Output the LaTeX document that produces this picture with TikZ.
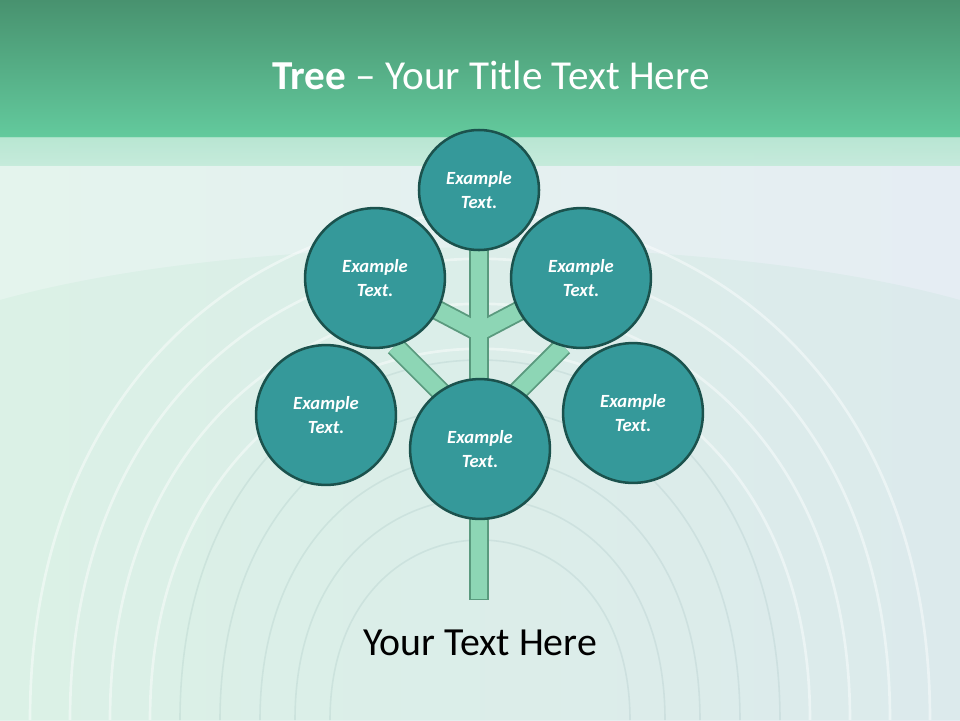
\documentclass[tikz,border=0pt]{standalone}
\usepackage{fontspec}
\setmainfont{Carlito}
\usepackage{xcolor}
\usetikzlibrary{calc}
\definecolor{bandtop}{HTML}{48926F}
\definecolor{bandbot}{HTML}{63CA9D}
\definecolor{leaffill}{HTML}{35999A}
\definecolor{leafedge}{HTML}{1B524D}
\definecolor{stemfill}{HTML}{8DD6B5}
\definecolor{stemedge}{HTML}{5A9A7E}
\definecolor{bgleft}{HTML}{E4F4ED}
\definecolor{bgright}{HTML}{E5EDF3}
\tikzset{
	leaf/.style={
			circle, draw=leafedge, fill=leaffill, line width=1.9pt,
			minimum size=#1, inner sep=0pt, align=center, text=white,
			font=\fontsize{14}{17.5}\selectfont\bfseries\itshape
		},
	stemedge/.style={draw=stemedge, line width=0.54cm},
	stemfill/.style={draw=stemfill, line width=0.44cm}
}

\begin{document}
\begin{tikzpicture}[x=0.026458cm, y=-0.026458cm]
            % Background of the slide
            \useasboundingbox (0,0) rectangle (960,720);
            \shade[left color=bgleft, right color=bgright] (0,0) rectangle (960,720);
            \fill[green!40!teal, opacity=0.04] (0,720) -- (0,300) .. controls (250,230) and (710,230) .. (960,300) -- (960,720) -- cycle;

            % Faint arcs behind the tree
            \foreach \r in {330,370,410,450} {
                \draw[white, line width=2pt, opacity=0.45] (480-\r,720) .. controls (480-\r,{720-1.5*\r}) and (480+\r,{720-1.5*\r}) .. (480+\r,720);
            }
            \foreach \r in {150,185,220,260,300} {
                \draw[gray!60!teal, line width=1.2pt, opacity=0.1] (480-\r,720) .. controls (480-\r,{720-1.6*\r}) and (480+\r,{720-1.6*\r}) .. (480+\r,720);
            }

            % Title band
            \shade[top color=bandtop, bottom color=bandbot] (0,0) rectangle (960,137);
            \shade[top color=bandbot!50!white, bottom color=bandbot!40!white, opacity=0.85] (0,137) rectangle (960,165);
            \node[text=white, font=\fontsize{31}{37}\selectfont] (title) at (491,75) {\textbf{Tree} -- Your Title Text Here};

            % Stem and branches of the tree
            \coordinate (root) at (479,600);
            \coordinate (fork) at (479,430);
            \coordinate (twig) at (479,332);
            \foreach \a/\b in {{479,250}/root, fork/{395,346}, fork/{563,346}, twig/{420,301}, twig/{538,301}} {
                \draw[stemedge] (\a) -- (\b);
            }
            \foreach \a/\b in {{479,250}/{479,598.5}, fork/{395,346}, fork/{563,346}, twig/{420,301}, twig/{538,301}} {
                \draw[stemfill] (\a) -- (\b);
            }

            % Leaves
            \node[leaf=3.175cm] (top) at (479,190) {Example\\Text.};
            \node[leaf=3.7cm] (upleft) at (375,278) {Example\\Text.};
            \node[leaf=3.7cm] (upright) at (581,278) {Example\\Text.};
            \node[leaf=3.7cm] (lowleft) at (326,415) {Example\\Text.};
            \node[leaf=3.7cm] (lowright) at (633,413) {Example\\Text.};
            \node[leaf=3.7cm] (centre) at (480,449) {Example\\Text.};

            % Caption below the tree
            \node[font=\fontsize{30}{36}\selectfont] (caption) at (480,643) {Your Text Here};
        \end{tikzpicture}
\end{document}
